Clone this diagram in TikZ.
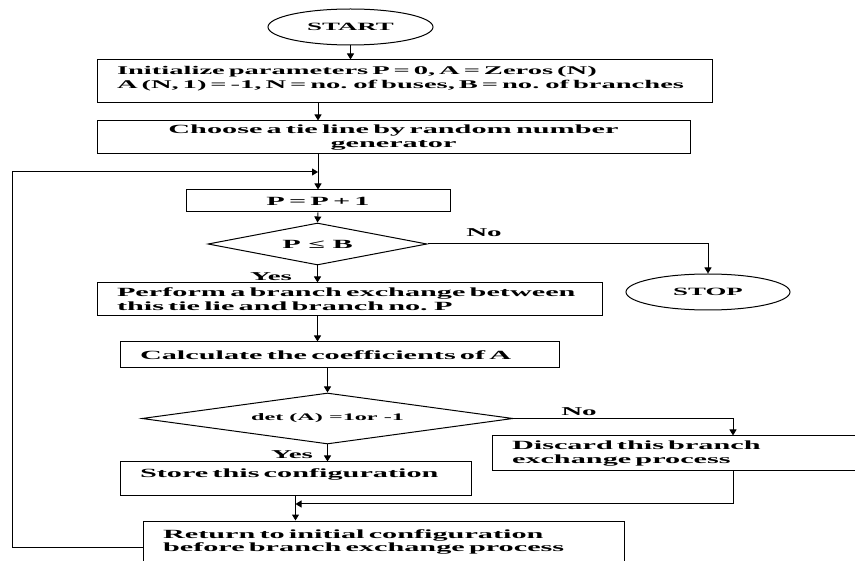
\documentclass[tikz,border=0pt]{standalone}
\usepackage{fontspec}
\newfontfamily\flowfont[FakeStretch=2.42]{Liberation Serif}
\usetikzlibrary{shapes.geometric,arrows.meta,calc}
\begin{document}
\begin{tikzpicture}[x=1pt,y=-1pt,
  base/.style={font=\flowfont\bfseries\fontsize{12.5}{13.8}\selectfont},
  box/.style={base, draw, line width=1pt, rectangle, inner xsep=20pt, inner ysep=0pt, align=left},
  term/.style={draw, ellipse, line width=1pt, inner sep=0pt, font=\flowfont\bfseries\fontsize{11.1}{12}\selectfont},
  dec/.style={base, draw, diamond, line width=1pt, inner sep=0pt},
  lbl/.style={font=\flowfont\bfseries\fontsize{12}{12}\selectfont, inner sep=0pt},
  arr/.style={line width=1pt, -{Triangle[length=6pt,width=7pt]}}
]
\useasboundingbox (0,0) rectangle (855,561);
\clip (0,0) rectangle (855,561);

\node[term, minimum width=165pt, minimum height=36pt] (start) at (350.5,27) {START};
\node[box, minimum height=43pt, text width=575pt, text depth=22pt, font=\flowfont\bfseries\fontsize{11.8}{13.5}\selectfont] (b1) at (404.5,81.5)
  {\mbox{Initialize parameters P = 0, A = Zeros (N)}\\\mbox{A (N, 1) = -1, N = no. of buses, B = no. of branches}};
\node[box, align=center, minimum height=33pt, text width=553pt] (b2) at (393.5,137.5)
  {\mbox{Choose a tie line by random number}\\generator};
\node[box, align=center, minimum height=22pt, text width=224pt] (b3) at (318,201) {P = P + 1};
\node[dec, aspect=5.2, minimum width=219pt, minimum height=42pt] (d1) at (317.5,244) {P ≤ B};
\node[term, minimum width=164pt, minimum height=36pt] (stop) at (708,292) {STOP};
\node[box, minimum height=33pt, text width=465pt] (b4) at (349.5,299.5)
  {\mbox{Perform a branch exchange between}\\\mbox{this tie lie and branch no. P}};
\node[box, minimum height=26pt, text width=399pt] (b5) at (339.5,355) {\mbox{Calculate the coefficients of A}};
\node[dec, aspect=7.3, minimum width=371pt, minimum height=51pt, font=\flowfont\bfseries\fontsize{10}{11}\selectfont] (d2) at (327.5,418.5) {det (A) =1or -1};
\node[box, minimum height=35pt, text width=343pt] (b6) at (683.5,453.5)
  {\mbox{Discard this branch}\\\mbox{exchange process}};
\node[box, minimum height=34pt, text width=311pt, text depth=12pt] (b7) at (295.5,479) {\mbox{Store this configuration}};
\node[box, minimum height=42pt, text width=441pt] (b8) at (383.5,542)
  {\mbox{Return to initial configuration}\\\mbox{before branch exchange process}};

\node[lbl] (no1) at (484,233) {No};
\node[lbl] (yes1) at (271,277) {Yes};
\node[lbl] (no2) at (579,412) {No};
\node[lbl] (yes2) at (292,455) {Yes};

\coordinate (xr) at (733,0);
\coordinate (mrg) at (295.5,504);
\coordinate (lp) at (12,172);

\draw[arr] (start.south) -- (start.south |- b1.north);
\draw[arr] (b3.north |- b1.south) -- (b3.north |- b2.north);
\draw[arr] (b3.north |- b2.south) -- (b3.north);
\draw[arr] (b3.south) -- (d1.north);
\draw[arr] (d1.south) -- (d1.south |- b4.north);
\draw[arr] (d1.east) -| (stop.north);
\draw[arr] (d1.south |- b4.south) -- (d1.south |- b5.north);
\draw[arr] (d2.north |- b5.south) -- (d2.north);
\draw[arr] (d2.east) -| (xr |- b6.north);
\draw[arr] (d2.south) -- (d2.south |- b7.north);
\draw[arr] (xr |- b6.south) |- (mrg);
\draw[arr] (b7.south) -- (b7.south |- b8.north);
\draw[arr] ([yshift=-5pt]b8.west) -| (lp) -- (lp -| b3.north);
\end{tikzpicture}
\end{document}
